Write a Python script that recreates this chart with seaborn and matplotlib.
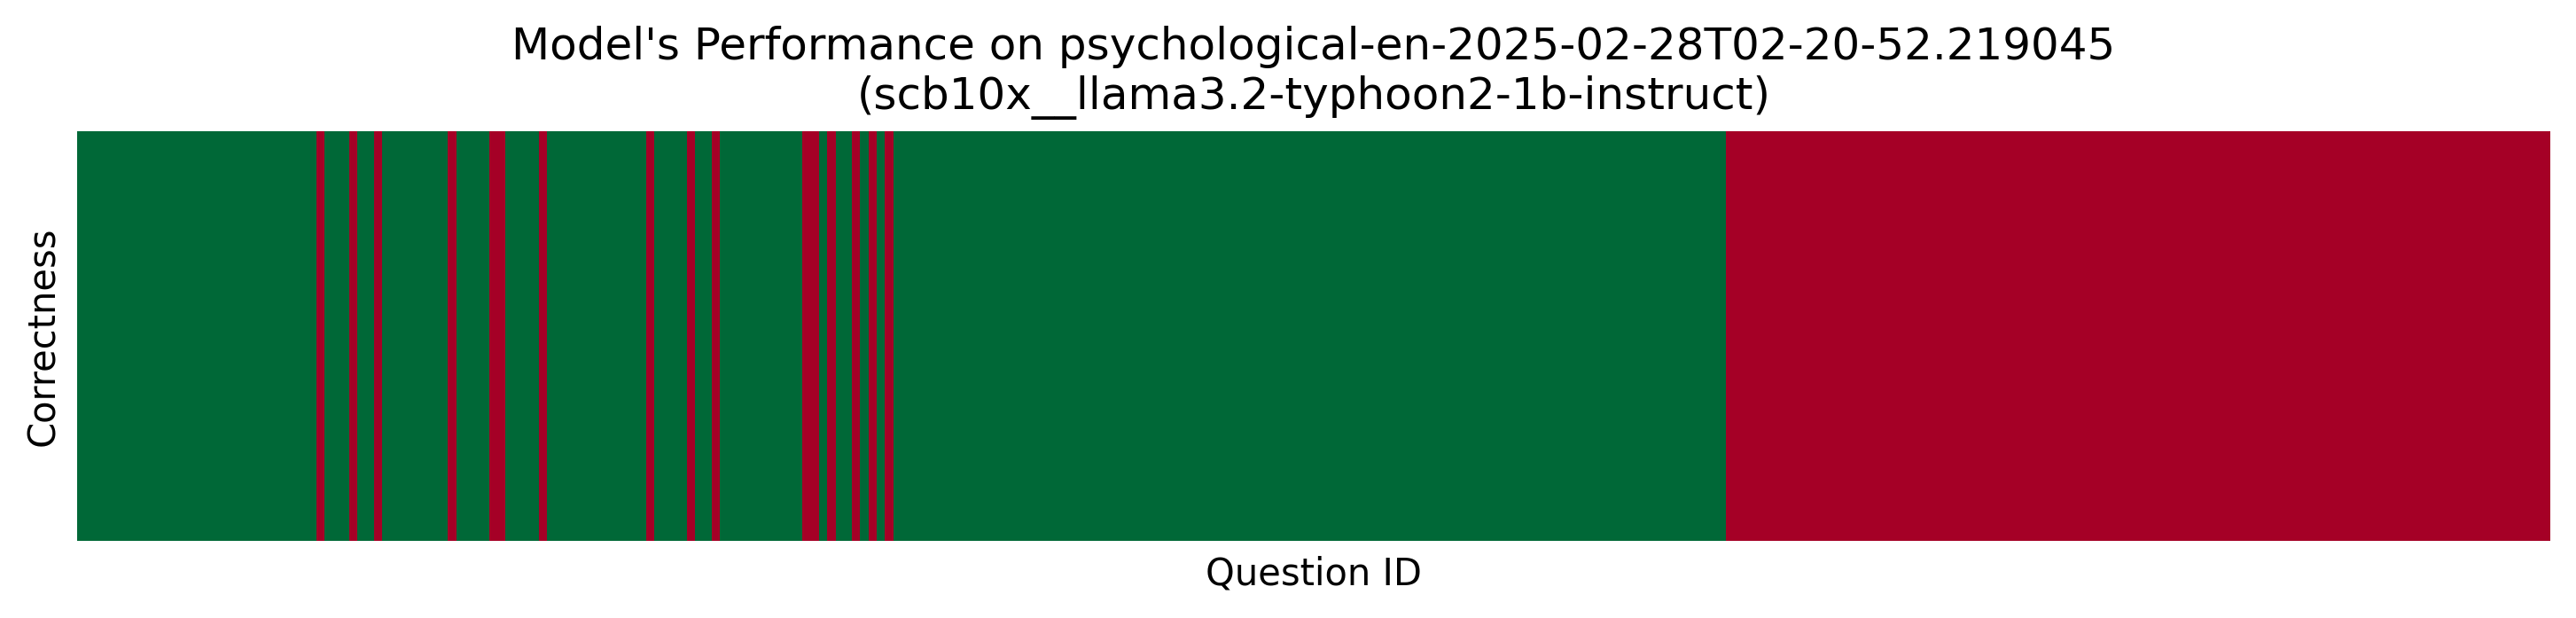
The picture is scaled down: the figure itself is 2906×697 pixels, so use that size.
import numpy as np
import pandas as pd
import matplotlib
matplotlib.use("Agg")
import matplotlib.pyplot as plt
import seaborn as sns

# ── Dados ──────────────────────────────────────────────────────────────
n_questions = 300
n_answered = 200
wrong_ids = [29, 33, 36, 45, 50, 51, 56, 69, 74, 77, 88, 89, 91, 94, 96, 98]

title = ("Model's Performance on psychological-en-2025-02-28T02-20-52.219045\n"
         "(scb10x__llama3.2-typhoon2-1b-instruct)")

correct = np.zeros(n_questions, dtype=int)
correct[:n_answered] = 1
correct[wrong_ids] = 0
df = pd.DataFrame([correct], columns=range(n_questions))

# ── Gráfico ────────────────────────────────────────────────────────────
fig, ax = plt.subplots(figsize=(2906 / 300, 697 / 300), dpi=300)
fig.subplots_adjust(left=0.0299, right=0.990, top=0.788, bottom=0.125)

sns.heatmap(df, cmap="RdYlGn", vmin=0, vmax=1, cbar=False,
            xticklabels=False, yticklabels=False, ax=ax)
ax.set_title(title, fontsize=12)
ax.set_xlabel("Question ID", fontsize=10)
ax.set_ylabel("Correctness", fontsize=10)

plt.savefig("out.png", dpi=300)
plt.close()
